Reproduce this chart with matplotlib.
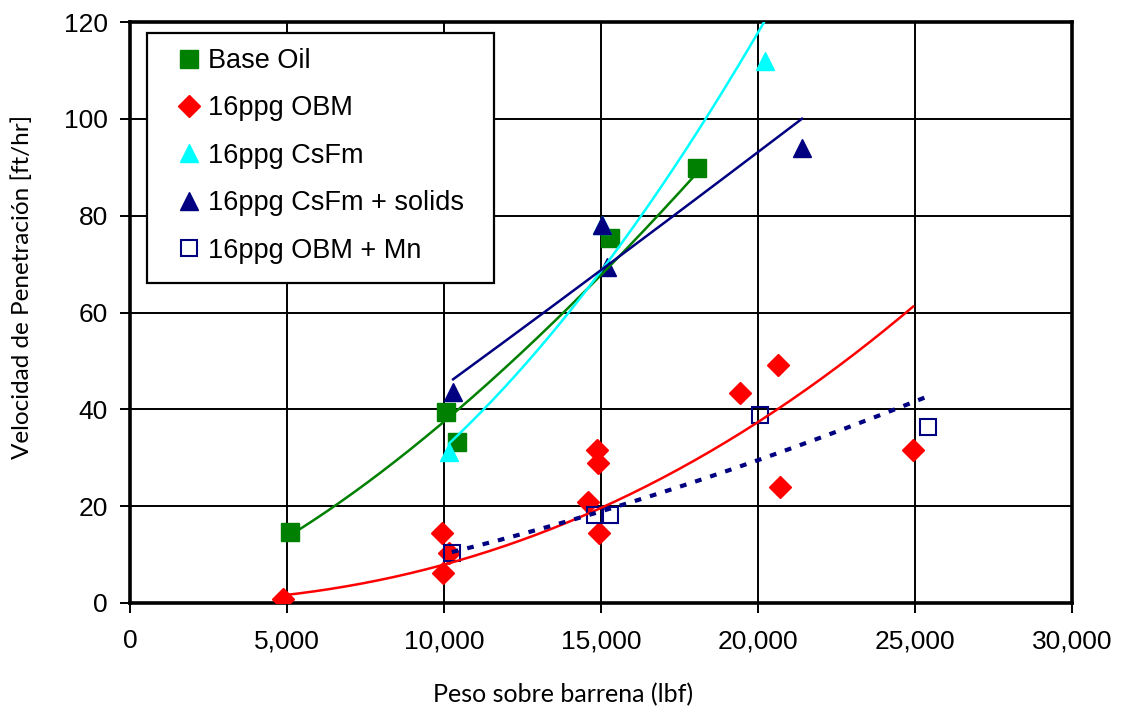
import numpy as np
import matplotlib
matplotlib.use("Agg")
import matplotlib.pyplot as plt
from matplotlib.patches import Rectangle
from matplotlib.ticker import FuncFormatter

# ---- data ----
base_x = [5100, 10060, 10410, 15300, 18060]
base_y = [14.7, 39.4, 33.2, 75.4, 89.8]

obm_x = [4870, 9940, 9970, 10150, 14870, 14900, 14590, 14940, 20640, 19430, 20700, 24940]
obm_y = [0.9, 14.5, 6.2, 10.3, 31.6, 28.9, 20.9, 14.5, 49.1, 43.4, 24.0, 31.6]

csfm_x = [10160, 15030, 20220]
csfm_y = [31.2, 78.0, 112.0]

sol_x = [10290, 15030, 15190, 21400]
sol_y = [43.6, 78.0, 69.4, 94.0]

mn_x = [10250, 14800, 15290, 20060, 25400]
mn_y = [10.3, 18.2, 18.2, 38.8, 36.3]

labels = ["Base Oil", "16ppg OBM", "16ppg CsFm", "16ppg CsFm + solids", "16ppg OBM + Mn"]
x_ticks = [0, 5000, 10000, 15000, 20000, 25000, 30000]
y_ticks = [0, 20, 40, 60, 80, 100, 120]
xlabel = "Peso sobre barrena (lbf)"
ylabel = "Velocidad de Penetración [ft/hr]"

plt.rcParams['font.family'] = ['Liberation Sans', 'DejaVu Sans']

fig = plt.figure(figsize=(11.22, 7.10), dpi=100)
ax = fig.add_axes([130/1122, 1-603/710, (1072-130)/1122, (603-22)/710])


def power_fit(x, y, n=200):
    x = np.asarray(x, float); y = np.asarray(y, float)
    b, la = np.polyfit(np.log(x), np.log(y), 1)
    xs = np.linspace(x.min(), x.max(), n)
    return xs, np.exp(la) * xs ** b


series = [
    (base_x, base_y, dict(marker='s', color='#008000', ms=13), dict(color='#008000', lw=1.8, ls='-')),
    (obm_x, obm_y, dict(marker='D', color='#FF0000', ms=11), dict(color='#FF0000', lw=1.8, ls='-')),
    (csfm_x, csfm_y, dict(marker='^', color='#00FFFF', ms=13), dict(color='#00FFFF', lw=1.8, ls='-')),
    (sol_x, sol_y, dict(marker='^', color='#000080', ms=13), dict(color='#000080', lw=1.8, ls='-')),
    (mn_x, mn_y, dict(marker='s', mfc='none', mec='#000080', mew=1.5, ms=12, color='#000080'),
     dict(color='#000080', lw=3.0, ls=(0, (1.6, 2.2)))),
]

handles = []
for (x, y, mk, ln), lab in zip(series, labels):
    h, = ax.plot(x, y, ls='none', label=lab, zorder=3, **mk)
    handles.append(h)
for (x, y, mk, ln) in series:
    xs, ys = power_fit(x, y)
    ax.plot(xs, ys, zorder=4, **ln)

ax.set_xlim(0, 30000)
ax.set_ylim(0, 120)
ax.set_xticks(x_ticks)
ax.set_yticks(y_ticks)
ax.xaxis.set_major_formatter(FuncFormatter(lambda v, p: f"{int(v):,}"))
ax.grid(True, color='black', lw=1.4, zorder=1)
ax.set_axisbelow(True)
for s in ax.spines.values():
    s.set_linewidth(2.6)
    s.set_color('black')
ax.tick_params(axis='both', direction='out', length=7, width=1.4, labelsize=19, colors='black')
ax.tick_params(axis='x', pad=12)
ax.tick_params(axis='y', pad=9)

ax.set_xlabel(xlabel, fontsize=18, family=['Lato', 'DejaVu Sans'])
ax.xaxis.set_label_coords((563-130)/942, (603-695)/581)
ax.xaxis.label.set_va('center')
ax.set_ylabel(ylabel, fontsize=17.5, family=['Lato', 'DejaVu Sans'])
ax.yaxis.set_label_coords((22-130)/942, (603-287)/581)
ax.yaxis.label.set_va('center')

# legend frame
ax.add_patch(Rectangle(((147-130)/942, (603-283)/581), (494-147)/942, (283-33)/581,
                       transform=ax.transAxes, facecolor='white', edgecolor='black',
                       lw=1.6, zorder=6, clip_on=False))
leg = ax.legend(handles=handles, loc='upper left',
                bbox_to_anchor=((175-130)/942, (603-48)/581), borderaxespad=0,
                frameon=False, fontsize=19.5, handlelength=1.0, handletextpad=0.2,
                labelspacing=0.79, borderpad=0)
leg.set_zorder(7)

fig.savefig("out.png", dpi=100)
